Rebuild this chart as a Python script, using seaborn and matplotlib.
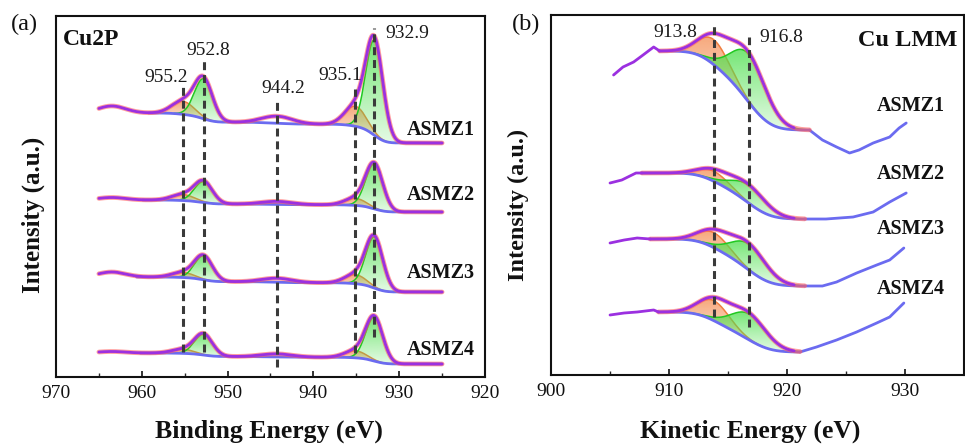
import numpy as np
import matplotlib
matplotlib.use("Agg")
import matplotlib.pyplot as plt
import seaborn as sns
from matplotlib.colors import to_rgb
from matplotlib.ticker import MultipleLocator

sns.set_theme(style="ticks")
plt.rcParams["font.family"] = ["Liberation Serif", "DejaVu Serif"]

# ---------------- Cu 2p region (binding energy, eV) ----------------
samples = ["ASMZ1", "ASMZ2", "ASMZ3", "ASMZ4"]
cu2p_centers = [932.9, 935.1, 944.2, 952.8, 955.2]
cu2p_sigma = [1.0, 1.25, 1.8, 1.05, 1.3]
cu2p_kind = ["green", "orange", None, "green", "orange"]
cu2p_heights_asmz1 = [95, 20, 7, 40, 13]
cu2p_heights_asmz2 = [45, 7, 3, 21, 6]
cu2p_heights_asmz3 = [51, 9, 4, 24, 5]
cu2p_heights_asmz4 = [44, 7, 3, 21, 4]
cu2p_bg_low = [234, 165, 85, 13]        # background level at 925 eV
cu2p_bg_step = [30, 12, 15, 11]         # Shirley step across the region
cu2p_fit_start = [959.2, 959.9, 960.6, 960.2]
cu2p_hump_center = 963.5
cu2p_hump_sigma = 1.6
cu2p_hump_heights = [7, 2.5, 5, 1.5]

# ---------------- Cu LMM region (kinetic energy, eV) ----------------
lmm_centers = [913.8, 916.8]
lmm_sigma = [1.3, 1.5]
lmm_kind = ["orange", "green"]
lmm_heights_asmz1 = [25, 48]
lmm_heights_asmz2 = [10, 18]
lmm_heights_asmz3 = [15, 26]
lmm_heights_asmz4 = [20, 26]
lmm_bg_high = [324, 202, 136, 63]
lmm_bg_low = [245, 156, 89, 23]
lmm_fit_start = [909.2, 907.7, 908.4, 909.1]
lmm_fit_end = [921.9, 921.5, 921.5, 921.1]
lmm_envelope_end = 920.6

# raw LMM data outside the fitted window
asmz1_left_ke = [905.3, 906.1, 907.0, 907.8, 908.7]
asmz1_left = [300, 308, 313, 320, 328]
asmz2_left_ke = [905.0, 906.0, 907.2]
asmz2_left = [192, 195, 202]
asmz3_left_ke = [905.0, 906.2, 907.3]
asmz3_left = [132, 135, 137]
asmz4_left_ke = [905.0, 906.2, 907.3, 908.7]
asmz4_left = [60, 62, 63, 65]

asmz1_right_ke = [923.0, 924.2, 925.3, 926.1, 927.3, 928.7, 929.5, 930.1]
asmz1_right = [235, 228, 222, 225, 232, 238, 247, 252]
asmz2_right_ke = [923.3, 925.6, 927.3, 928.7, 930.1]
asmz2_right = [156, 158, 163, 173, 182]
asmz3_right_ke = [923.0, 924.2, 925.9, 927.6, 928.7, 929.9]
asmz3_right = [89, 93, 102, 110, 115, 127]
asmz4_right_ke = [922.5, 924.2, 925.9, 927.6, 928.7, 929.9]
asmz4_right = [28, 35, 43, 52, 58, 72]

cu2p_heights = [cu2p_heights_asmz1, cu2p_heights_asmz2, cu2p_heights_asmz3, cu2p_heights_asmz4]
lmm_heights = [lmm_heights_asmz1, lmm_heights_asmz2, lmm_heights_asmz3, lmm_heights_asmz4]
lmm_left = [(asmz1_left_ke, asmz1_left), (asmz2_left_ke, asmz2_left),
            (asmz3_left_ke, asmz3_left), (asmz4_left_ke, asmz4_left)]
lmm_right = [(asmz1_right_ke, asmz1_right), (asmz2_right_ke, asmz2_right),
             (asmz3_right_ke, asmz3_right), (asmz4_right_ke, asmz4_right)]

# ---------------- styling ----------------
PURPLE = "#9b30e0"
BLUE = "#6b6bf0"
RED = "#ff5f5f"
FILL = {"green": ("#4fe04f", "#22c822"), "orange": ("#f59a66", "#f07f40")}
DASH = "#3a3a3a"
INK = "#111111"


def gauss(x, c, s, h):
    return h * np.exp(-0.5 * ((x - c) / s) ** 2)


def line(ax, x, y, color, lw, z, alpha=1.0):
    sns.lineplot(x=np.asarray(x), y=np.asarray(y), ax=ax, color=color, linewidth=lw,
                 sort=False, estimator=None, zorder=z, alpha=alpha)


def gradient_fill(ax, x, lower, upper, color, a_top, a_bot, z):
    poly = ax.fill_between(x, lower, upper, facecolor="none", edgecolor="none")
    ramp = np.zeros((64, 1, 4))
    ramp[..., :3] = to_rgb(color)
    ramp[..., 3] = np.linspace(a_bot, a_top, 64)[:, None]
    im = ax.imshow(ramp, aspect="auto", origin="lower", interpolation="bicubic",
                   extent=[x.min(), x.max(), lower.min(), upper.max()], zorder=z)
    im.set_clip_path(poly.get_paths()[0], transform=ax.transData)


def draw_component(ax, x, base, comp, kind, center, sigma, keep):
    sel = keep & (np.abs(x - center) <= 3.3 * sigma)
    xs, lo, hi = x[sel], base[sel], base[sel] + comp[sel]
    face, edge = FILL[kind]
    z = 2.2 if kind == "green" else 2.0
    gradient_fill(ax, xs, lo, hi, face, 0.85 if kind == "orange" else 0.78, 0.15, z)
    line(ax, xs, hi, edge, 1.1, z + 0.05)


def style_axes(ax, xlim, major, minor, ylim):
    ax.set_xlim(*xlim)
    ax.set_ylim(*ylim)
    ax.xaxis.set_major_locator(MultipleLocator(major))
    ax.xaxis.set_minor_locator(MultipleLocator(minor))
    ax.set_yticks([])
    ax.tick_params(axis="x", which="major", direction="in", length=4.5, width=1.2,
                   labelsize=14, pad=6, colors=INK)
    ax.tick_params(axis="x", which="minor", direction="in", length=3, width=1.0)
    for sp in ax.spines.values():
        sp.set_visible(True)
        sp.set_linewidth(1.5)
        sp.set_color(INK)
    ax.set_xlabel("")
    ax.set_ylabel("")
    ax.grid(False)


fig = plt.figure(figsize=(9.65, 4.44), dpi=100)
ax_a = fig.add_axes([0.0580, 0.1509, 0.4446, 0.8131])
ax_b = fig.add_axes([0.5710, 0.1554, 0.4280, 0.8108])

# ---------------- panel (a): Cu 2p ----------------
be = np.arange(925.0, 965.0001, 0.05)
for i, name in enumerate(samples):
    comps = [gauss(be, c, s, h) for c, s, h in zip(cu2p_centers, cu2p_sigma, cu2p_heights[i])]
    total = np.sum(comps, axis=0)
    cum = np.cumsum(total)
    bg = cu2p_bg_low[i] + cu2p_bg_step[i] * cum / cum[-1]
    hump = gauss(be, cu2p_hump_center, cu2p_hump_sigma, cu2p_hump_heights[i])
    envelope = bg + total + hump
    fit = be <= cu2p_fit_start[i]

    for comp, kind, c, s in zip(comps, cu2p_kind, cu2p_centers, cu2p_sigma):
        if kind is not None:
            draw_component(ax_a, be, bg, comp, kind, c, s, fit)
    line(ax_a, be[fit], bg[fit], BLUE, 2.0, 4)
    line(ax_a, be, envelope, RED, 3.4, 5, alpha=0.6)
    line(ax_a, be, envelope, PURPLE, 2.0, 6)

# guide lines and peak labels (same order as cu2p_centers)
cu2p_guides = [(40, 349), (24, 288), (10, 277), (25, 318), (25, 292)]
cu2p_label_xy = [(929.0, 343), (936.9, 301), (943.5, 288), (952.3, 326), (957.2, 299)]
for c, (y0, y1) in zip(cu2p_centers, cu2p_guides):
    ax_a.plot([c, c], [y0, y1], color=DASH, lw=2.2, ls=(0, (2.6, 1.6)), zorder=7)
for c, (lx, ly) in zip(cu2p_centers, cu2p_label_xy):
    ax_a.text(lx, ly, f"{c:.1f}", ha="center", va="center", fontsize=14, color="#1a1a1a", zorder=8)
for name, ly in zip(samples, [247, 182, 104, 27]):
    ax_a.text(925.2, ly, name, ha="center", va="center", fontsize=14.5, fontweight="bold",
              color=INK, zorder=8)
ax_a.text(0.016, 0.934, "Cu2P", transform=ax_a.transAxes, ha="left", va="center",
          fontsize=17, fontweight="bold", color=INK)
style_axes(ax_a, (970, 920), 10, 5, (0, 361))

# ---------------- panel (b): Cu LMM ----------------
for i, name in enumerate(samples):
    ke = np.arange(lmm_fit_start[i], lmm_fit_end[i] + 1e-6, 0.05)
    comps = [gauss(ke, c, s, h) for c, s, h in zip(lmm_centers, lmm_sigma, lmm_heights[i])]
    total = np.sum(comps, axis=0)
    cum = np.cumsum(total)
    bg = lmm_bg_low[i] + (lmm_bg_high[i] - lmm_bg_low[i]) * (1 - cum / cum[-1])
    envelope = bg + total
    keep = np.ones_like(ke, dtype=bool)

    for comp, kind, c, s in zip(comps, lmm_kind, lmm_centers, lmm_sigma):
        draw_component(ax_b, ke, bg, comp, kind, c, s, keep)
    line(ax_b, ke, bg, BLUE, 2.0, 4)
    line(ax_b, ke, envelope, RED, 3.4, 5, alpha=0.6)
    env_part = ke <= lmm_envelope_end
    line(ax_b, ke[env_part], envelope[env_part], PURPLE, 2.0, 6)

    lx, ly = lmm_left[i]
    line(ax_b, list(lx) + [ke[0]], list(ly) + [envelope[0]], PURPLE, 2.0, 6)
    rx, ry = lmm_right[i]
    line(ax_b, [ke[-1]] + list(rx), [bg[-1]] + list(ry), BLUE, 2.0, 4)

lmm_guides = [(58, 349), (48, 338)]
lmm_label_xy = [(910.5, 343), (919.5, 338)]
for c, (y0, y1) in zip(lmm_centers, lmm_guides):
    ax_b.plot([c, c], [y0, y1], color=DASH, lw=2.2, ls=(0, (2.6, 1.6)), zorder=7)
for c, (lx, ly) in zip(lmm_centers, lmm_label_xy):
    ax_b.text(lx, ly, f"{c:.1f}", ha="center", va="center", fontsize=14, color="#1a1a1a", zorder=8)
for name, ly in zip(samples, [269, 201, 146, 86]):
    ax_b.text(930.5, ly, name, ha="center", va="center", fontsize=14.5, fontweight="bold",
              color=INK, zorder=8)
ax_b.text(930.2, 335, "Cu LMM", ha="center", va="center", fontsize=17.5, fontweight="bold",
          color=INK, zorder=8)
style_axes(ax_b, (900, 935), 10, 5, (0, 360))

# ---------------- figure-level labels ----------------
fig.text(0.0249, 0.944, "(a)", ha="center", va="center", fontsize=17.5, color=INK)
fig.text(0.545, 0.944, "(b)", ha="center", va="center", fontsize=17.5, color=INK)
fig.text(0.0347, 0.516, "Intensity (a.u.)", rotation=90, ha="center", va="center",
         fontsize=18, fontweight="bold", color=INK)
fig.text(0.537, 0.538, "Intensity (a.u.)", rotation=90, ha="center", va="center",
         fontsize=17.5, fontweight="bold", color=INK)
fig.text(0.279, 0.029, "Binding Energy (eV)", ha="center", va="center",
         fontsize=18.5, fontweight="bold", color=INK)
fig.text(0.777, 0.029, "Kinetic Energy (eV)", ha="center", va="center",
         fontsize=18.5, fontweight="bold", color=INK)

fig.savefig("out.png", dpi=100, facecolor="white")
